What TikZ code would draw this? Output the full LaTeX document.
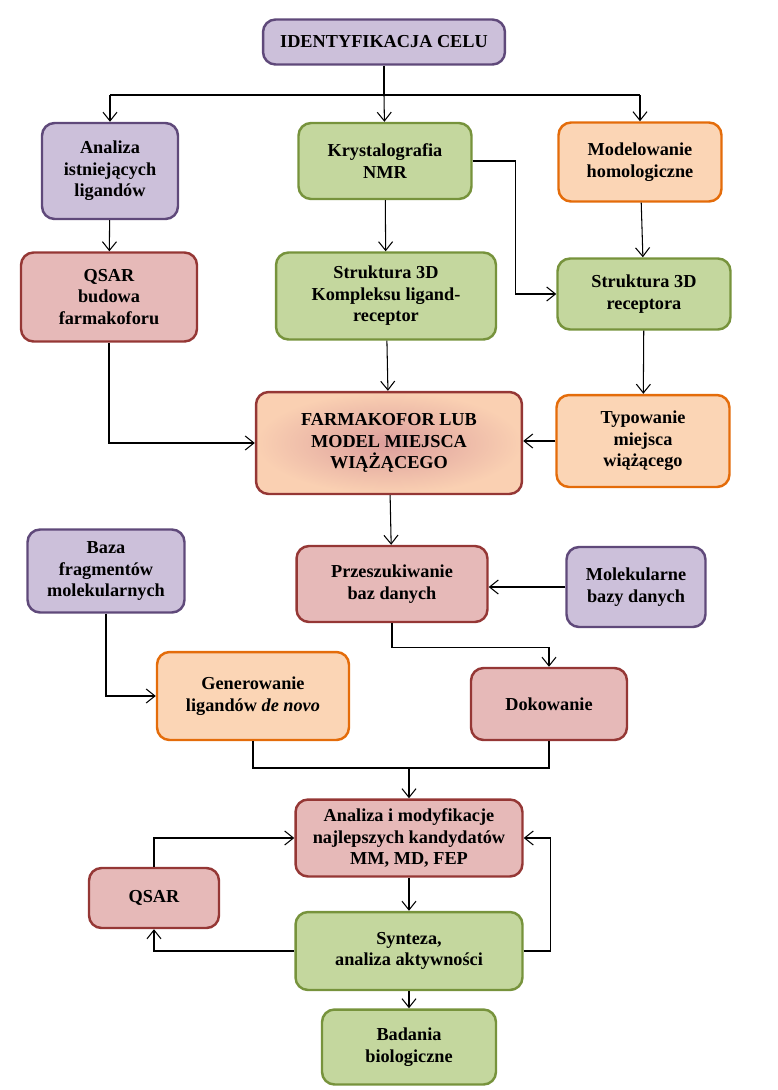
\documentclass[tikz,border=0pt]{standalone}
\usepackage{fontspec}
\setmainfont{Liberation Serif}
\usetikzlibrary{arrows.meta}
\definecolor{fillpurple}{RGB}{204,192,218}
\definecolor{linepurple}{RGB}{95,73,122}
\definecolor{fillgreen}{RGB}{196,215,158}
\definecolor{linegreen}{RGB}{119,147,60}
\definecolor{fillorange}{RGB}{251,213,181}
\definecolor{lineorange}{RGB}{228,108,10}
\definecolor{fillred}{RGB}{230,185,184}
\definecolor{linered}{RGB}{149,55,53}
\definecolor{shadeout}{RGB}{250,208,178}
\definecolor{shadein}{RGB}{220,158,156}
\tikzset{
  box/.style={rounded corners=0.25cm, line width=1.4pt, align=center, inner sep=2pt,
    font=\bfseries\fontsize{10.4}{12.2}\selectfont},
  purplebox/.style={box, draw=linepurple, fill=fillpurple},
  greenbox/.style={box, draw=linegreen, fill=fillgreen},
  orangebox/.style={box, draw=lineorange, fill=fillorange},
  redbox/.style={box, draw=linered, fill=fillred},
  arr/.style={-{Straight Barb[length=5pt,width=8pt]}},
}
\begin{document}
\begin{tikzpicture}[x=0.02cm, y=-0.02cm, line width=0.6pt]
\useasboundingbox (0,0) rectangle (778,1090);
% boxes
\node [purplebox, minimum width=4.84cm, minimum height=0.9cm] (ident) at (384,42) {IDENTYFIKACJA CELU};
\node [purplebox, minimum width=2.72cm, minimum height=1.92cm] (analiza) at (110,171) {Analiza\\istniejących\\ligandów};
\node [greenbox, minimum width=3.46cm, minimum height=1.52cm] (kryst) at (385,161) {Krystalografia\\NMR};
\node [orangebox, minimum width=3.26cm, minimum height=1.58cm] (model) at (640,162) {Modelowanie\\homologiczne};
\node [redbox, minimum width=3.52cm, minimum height=1.78cm] (qsarfarm) at (109,297) {QSAR\\budowa\\farmakoforu};
\node [greenbox, minimum width=4.4cm, minimum height=1.74cm] (kompleks) at (386,296) {Struktura 3D\\Kompleksu ligand-\\receptor};
\node [greenbox, minimum width=3.46cm, minimum height=1.42cm] (receptor) at (644,294) {Struktura 3D\\receptora};
\node [box, draw=linered, inner color=shadein, outer color=shadeout, minimum width=5.32cm, minimum height=2.04cm] (farma) at (389,443) {FARMAKOFOR LUB\\MODEL MIEJSCA\\WIĄŻĄCEGO};
\node [orangebox, minimum width=3.46cm, minimum height=1.84cm] (typ) at (643,441) {Typowanie\\miejsca\\wiążącego};
\node [purplebox, minimum width=3.14cm, minimum height=1.66cm] (baza) at (106,571) {Baza\\fragmentów\\molekularnych};
\node [redbox, minimum width=3.82cm, minimum height=1.52cm] (przesz) at (392,584) {Przeszukiwanie\\baz danych};
\node [purplebox, minimum width=2.78cm, minimum height=1.6cm] (molek) at (636,587) {Molekularne\\bazy danych};
\node [orangebox, minimum width=3.84cm, minimum height=1.76cm] (gener) at (253,696) {Generowanie\\ligandów \textit{de novo}};
\node [redbox, minimum width=3.12cm, minimum height=1.44cm] (dok) at (549,704) {Dokowanie};
\node [redbox, minimum width=4.54cm, minimum height=1.54cm] (anmod) at (409,838) {Analiza i modyfikacje\\najlepszych kandydatów\\MM, MD, FEP};
\node [redbox, minimum width=2.6cm, minimum height=1.2cm] (qsar) at (154,898) {QSAR};
\node [greenbox, minimum width=4.54cm, minimum height=1.56cm] (synt) at (409,951) {Synteza,\\analiza aktywności};
\node [greenbox, minimum width=3.48cm, minimum height=1.5cm] (badania) at (409,1047) {Badania\\biologiczne};
% split below the target
\coordinate (split) at (ident.south |- 0,95);
\coordinate (splitL) at (analiza.north |- split);
\coordinate (splitR) at (model.north |- split);
\coordinate (merge) at (409,768);
\draw (ident) -- (split);
\draw (splitL) -- (splitR);
\draw [arr] (splitL) -- (analiza.north);
\draw [arr] (split) -- (kryst);
\draw [arr] (splitR) -- (model.north);
% upper part
\draw [arr] (analiza) -- (qsarfarm);
\draw [arr] (kryst) -- (kompleks);
\draw [arr] (kryst.east) -- ++(43,0) |- (receptor.west);
\draw [arr] (model) -- (receptor);
\draw [arr] (qsarfarm.south) |- (farma.west);
\draw [arr] (kompleks) -- (farma);
\draw [arr] (receptor) -- (typ);
\draw [arr] (typ.west) -- (typ.west -| farma.east);
% search and design
\draw [arr] (farma) -- (przesz);
\draw [arr] (molek.west) -- (molek.west -| przesz.east);
\draw [arr] (baza.south) |- (gener.west);
\draw [arr] (przesz.south) -- ++(0,24) -| (dok.north);
\draw (gener.south) |- (merge) -| (dok.south);
\draw [arr] (merge) -- (anmod.north);
% optimisation loop
\draw [arr] (anmod) -- (synt);
\draw [arr] (qsar.north) |- (anmod.west);
\draw [arr] (synt.west) -| (qsar.south);
\draw [arr] (synt.east) -- ++(27,0) |- (anmod.east);
\draw [arr] (synt) -- (badania);
\end{tikzpicture}
\end{document}
